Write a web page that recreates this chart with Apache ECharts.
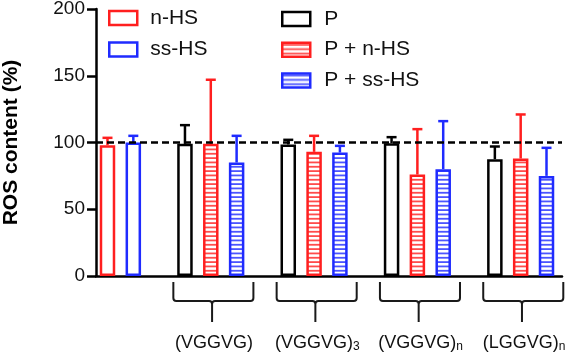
<!DOCTYPE html>
<html>
<head>
<meta charset="utf-8">
<script src="https://cdn.jsdelivr.net/npm/echarts@6/dist/echarts.min.js"></script>
<style>
  html, body { margin: 0; padding: 0; background: #fff; }
  #chart { width: 566px; height: 356px; }
</style>
</head>
<body>
<div id="chart"></div>
<script>
// 对照组 (slot 0, 1)
var nhsSlots = [0];
var nhsMean = [98];
var nhsTop = [103.5];
var sshsSlots = [1];
var sshsMean = [100];
var sshsTop = [105];

// 多肽分组，每组三根柱子：P, P + n-HS, P + ss-HS
var groupSlots = [3, 7, 11, 15];
var groupNames = ['(VGGVG)', '(VGGVG){sub|3}', '(VGGVG){sub|n}', '(LGGVG){sub|n}'];
var pMean = [99, 98.5, 99.5, 87.5];
var pTop = [113, 102, 104, 97];
var pnMean = [99, 93, 76, 88];
var pnTop = [147, 105, 110, 121];
var psMean = [85, 92.5, 80, 75];
var psTop = [105, 97.5, 116, 96];

var yTicks = [0, 50, 100, 150, 200];
var refLine = 100;

var FONT = 'Liberation Sans, Arial, Helvetica, sans-serif';
var RED = '#ff1f1f';
var BLUE = '#1f2bff';
var BLACK = '#000';

// 横条纹填充
function stripes(color) {
  var c = document.createElement('canvas');
  c.width = 4;
  c.height = 13;
  var ctx = c.getContext('2d');
  ctx.fillStyle = '#fff';
  ctx.fillRect(0, 0, 4, 13);
  ctx.fillStyle = color;
  ctx.globalAlpha = 0.8;
  [0, 4.33, 8.67].forEach(function (y) {
    ctx.fillRect(0, y + 1.2, 4, 1.8);
  });
  return { image: c, repeat: 'repeat' };
}

function shift(arr, d) {
  return arr.map(function (v) { return v + d; });
}

function barSeries(name, slots, vals, color, fill) {
  return {
    name: name,
    type: 'bar',
    data: slots.map(function (s, i) { return [s, vals[i]]; }),
    barWidth: 15.5,
    barGap: '-100%',
    itemStyle: { color: fill, borderColor: color, borderWidth: 2.5 },
    z: 2
  };
}

function errSeries(slots, mean, top, color) {
  return {
    type: 'custom',
    silent: true,
    z: 4,
    data: slots.map(function (s, i) { return [s, mean[i], top[i]]; }),
    encode: { x: 0, y: [1, 2] },
    renderItem: function (params, api) {
      var b = api.coord([api.value(0), api.value(1)]);
      var t = api.coord([api.value(0), api.value(2)]);
      var st = { stroke: color, lineWidth: 2.5 };
      return {
        type: 'group',
        children: [
          { type: 'line', shape: { x1: b[0], y1: b[1], x2: t[0], y2: t[1] }, style: st },
          { type: 'line', shape: { x1: t[0] - 5, y1: t[1], x2: t[0] + 5, y2: t[1] }, style: st }
        ]
      };
    }
  };
}

// 花括号形状
function bracePath(l, r, m, y0, y1, y2) {
  var k = 3;
  return [
    'M', l, y0, 'L', l, y1 - k, 'Q', l, y1, l + k, y1, 'L', m - k, y1, 'Q', m, y1, m, y1 + k, 'L', m, y2,
    'M', m, y1 + k, 'Q', m, y1, m + k, y1, 'L', r - k, y1, 'Q', r, y1, r, y1 - k, 'L', r, y0
  ].join(' ');
}

var chart = echarts.init(document.getElementById('chart'));

var legendText = { fontSize: 21, lineHeight: 21, color: '#111', fontFamily: FONT };

var option = {
  animation: false,
  grid: { left: 96, right: 4, top: 9, bottom: 80, containLabel: false, outerBoundsMode: 'none' },
  legend: [{
    data: ['n-HS', 'ss-HS'],
    orient: 'vertical',
    left: 108,
    top: 7.5,
    padding: 0,
    icon: 'rect',
    itemWidth: 28,
    itemHeight: 14,
    itemGap: 10.5,
    selectedMode: false,
    itemStyle: { borderWidth: 2.5 },
    textStyle: Object.assign({ padding: [0, 0, 0, 8] }, legendText)
  }, {
    data: ['P', 'P + n-HS', 'P + ss-HS'],
    orient: 'vertical',
    left: 281,
    top: 8.5,
    padding: 0,
    icon: 'rect',
    itemWidth: 28,
    itemHeight: 14,
    itemGap: 9.7,
    selectedMode: false,
    itemStyle: { borderWidth: 2.5 },
    textStyle: Object.assign({ padding: [0, 0, 0, 9] }, legendText)
  }],
  xAxis: {
    type: 'value',
    min: -0.445,
    max: 17.6,
    axisLine: { show: true, onZero: false, lineStyle: { color: BLACK, width: 2.5 } },
    axisTick: { show: false },
    axisLabel: { show: false },
    splitLine: { show: false }
  },
  yAxis: {
    type: 'value',
    min: yTicks[0],
    max: yTicks[yTicks.length - 1],
    interval: yTicks[1] - yTicks[0],
    name: 'ROS content (%)',
    nameLocation: 'middle',
    nameGap: 74,
    nameTextStyle: { fontSize: 21, fontWeight: 'bold', color: BLACK, fontFamily: FONT },
    axisLine: { show: true, onZero: false, lineStyle: { color: BLACK, width: 2.5 } },
    axisTick: { show: true, length: 9, lineStyle: { color: BLACK, width: 2.5 } },
    axisLabel: { fontSize: 19, color: '#111', margin: 11, fontFamily: FONT },
    splitLine: { show: false }
  },
  series: [
    barSeries('n-HS', nhsSlots, nhsMean, RED, '#fff'),
    barSeries('ss-HS', sshsSlots, sshsMean, BLUE, '#fff'),
    Object.assign(barSeries('P', groupSlots, pMean, BLACK, '#fff'), {
      markLine: {
        silent: true,
        symbol: 'none',
        z: 5,
        label: { show: false },
        lineStyle: { color: BLACK, type: [7, 4], width: 2.5 },
        data: [{ yAxis: refLine }]
      }
    }),
    barSeries('P + n-HS', shift(groupSlots, 1), pnMean, RED, stripes(RED)),
    barSeries('P + ss-HS', shift(groupSlots, 2), psMean, BLUE, stripes(BLUE)),
    errSeries(nhsSlots, nhsMean, nhsTop, RED),
    errSeries(sshsSlots, sshsMean, sshsTop, BLUE),
    errSeries(groupSlots, pMean, pTop, BLACK),
    errSeries(shift(groupSlots, 1), pnMean, pnTop, RED),
    errSeries(shift(groupSlots, 2), psMean, psTop, BLUE),
    // 分组括号和名称
    {
      type: 'custom',
      silent: true,
      data: groupSlots.map(function (s, i) { return [s, 0, i]; }),
      renderItem: function (params, api) {
        var s = api.value(0);
        var l = api.coord([s - 0.45, 0]);
        var r = api.coord([s + 2.65, 0]);
        var m = api.coord([s + 1.05, 0]);
        var base = l[1];
        var label = groupNames[api.value(2)].replace(/^([^{]+)/, '{m|$1}');
        return {
          type: 'group',
          children: [
            {
              type: 'path',
              shape: { pathData: bracePath(l[0], r[0], m[0], base + 6, base + 25, base + 46) },
              style: { stroke: '#1a1a1a', lineWidth: 2, fill: null }
            },
            {
              type: 'text',
              style: {
                text: label,
                x: m[0] + 2,
                y: base + 58,
                align: 'center',
                verticalAlign: 'top',
                fill: '#111',
                rich: {
                  m: { fontSize: 18, lineHeight: 18, verticalAlign: 'top', fontFamily: FONT, fill: '#111' },
                  sub: { fontSize: 12, padding: [7, 0, 0, 0], verticalAlign: 'top', fontFamily: FONT, fill: '#111' }
                }
              }
            }
          ]
        };
      }
    }
  ]
};

chart.setOption(option);
</script>
</body>
</html>
